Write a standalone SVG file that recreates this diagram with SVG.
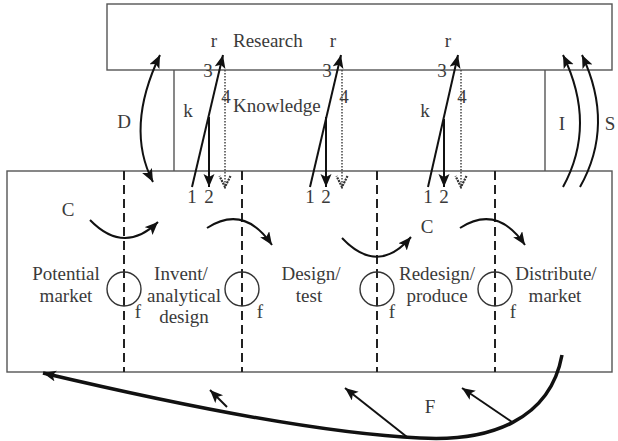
<svg xmlns="http://www.w3.org/2000/svg" width="618" height="441" viewBox="0 0 618 441">
<style>
  .box{fill:none;stroke:#555;stroke-width:1.4}
  .div{fill:none;stroke:#222;stroke-width:2;stroke-dasharray:9 5}
  .circ{fill:none;stroke:#333;stroke-width:1.4}
  .t{font-family:"Liberation Serif","Times New Roman",serif;font-size:19px;fill:#3a3a3a}
  .mid{text-anchor:middle}
  .arr{fill:none;stroke:#111;stroke-width:2}
  .thick{fill:none;stroke:#111;stroke-width:3.5}
  .dot{fill:none;stroke:#444;stroke-width:1.5;stroke-dasharray:1.5 1.5}
</style>
<defs>
  <marker id="ah" markerUnits="userSpaceOnUse" markerWidth="14" markerHeight="12" refX="13" refY="5.5" orient="auto">
    <path d="M0,0 L13,5.5 L0,11 L3,5.5 z" fill="#111"/>
  </marker>
  <marker id="ahs" markerUnits="userSpaceOnUse" markerWidth="14" markerHeight="12" refX="13" refY="5.5" orient="auto-start-reverse">
    <path d="M0,0 L13,5.5 L0,11 L3,5.5 z" fill="#111"/>
  </marker>
  <marker id="ahv" markerUnits="userSpaceOnUse" markerWidth="14" markerHeight="14" refX="12" refY="6.5" orient="auto">
    <path d="M1,1 L12,6.5 L1,12" fill="none" stroke="#333" stroke-width="2.2" stroke-dasharray="2 1"/>
  </marker>
</defs>

<g id="research">
  <rect class="box" x="107" y="4" width="505" height="66"/>
  <text class="t" x="233" y="47">Research</text>
</g>
<g id="knowledge">
  <line class="box" x1="174" y1="70" x2="174" y2="171"/>
  <line class="box" x1="545" y1="70" x2="545" y2="171"/>
  <text class="t" x="233" y="112">Knowledge</text>
</g>
<g id="chain">
  <rect class="box" x="7" y="171" width="605" height="201"/>
  <line class="div" x1="124" y1="171" x2="124" y2="372"/>
  <line class="div" x1="242" y1="171" x2="242" y2="372"/>
  <line class="div" x1="377" y1="171" x2="377" y2="372"/>
  <line class="div" x1="495" y1="171" x2="495" y2="372"/>
  <circle class="circ" cx="124" cy="289" r="17"/>
  <circle class="circ" cx="242" cy="289" r="17"/>
  <circle class="circ" cx="377" cy="289" r="17"/>
  <circle class="circ" cx="495" cy="289" r="17"/>
</g>
<g id="potential-market">
  <text class="t mid" x="66" y="280">Potential</text>
  <text class="t mid" x="66" y="302">market</text>
</g>
<g id="invent">
  <text class="t mid" x="181" y="280">Invent/</text>
  <text class="t mid" x="184" y="302">analytical</text>
  <text class="t mid" x="184" y="323">design</text>
</g>
<g id="design-test">
  <text class="t mid" x="311" y="280">Design/</text>
  <text class="t mid" x="309" y="302">test</text>
</g>
<g id="redesign">
  <text class="t mid" x="437" y="280">Redesign/</text>
  <text class="t mid" x="437" y="302">produce</text>
</g>
<g id="distribute">
  <text class="t mid" x="556" y="280">Distribute/</text>
  <text class="t mid" x="555" y="302">market</text>
</g>

<g id="labels">
  <text class="t mid" x="214" y="47">r</text>
  <text class="t mid" x="333" y="47">r</text>
  <text class="t mid" x="448" y="47">r</text>
  <text class="t mid" x="208" y="77">3</text>
  <text class="t mid" x="327" y="77">3</text>
  <text class="t mid" x="442" y="77">3</text>
  <text class="t mid" x="226" y="103">4</text>
  <text class="t mid" x="344" y="103">4</text>
  <text class="t mid" x="462" y="103">4</text>
  <text class="t mid" x="188" y="117">k</text>
  <text class="t mid" x="425" y="117">k</text>
  <text class="t mid" x="124" y="128">D</text>
  <text class="t mid" x="562" y="130">I</text>
  <text class="t mid" x="610" y="130">S</text>
  <text class="t mid" x="192" y="203">1</text>
  <text class="t mid" x="209" y="203">2</text>
  <text class="t mid" x="310" y="203">1</text>
  <text class="t mid" x="326" y="203">2</text>
  <text class="t mid" x="428" y="203">1</text>
  <text class="t mid" x="444" y="203">2</text>
  <text class="t mid" x="68" y="216">C</text>
  <text class="t mid" x="427" y="233">C</text>
  <text class="t mid" x="138" y="318">f</text>
  <text class="t mid" x="260" y="318">f</text>
  <text class="t mid" x="392" y="318">f</text>
  <text class="t mid" x="513" y="318">f</text>
  <text class="t mid" x="430" y="413">F</text>
</g>

<g id="connectors">
  <!-- chain 1 -->
  <line class="arr" x1="192" y1="187" x2="223" y2="55" marker-end="url(#ah)"/>
  <line class="arr" x1="209" y1="117" x2="209" y2="187" marker-end="url(#ah)"/>
  <line class="dot" x1="225" y1="70" x2="225" y2="187" marker-end="url(#ahv)"/>
  <!-- chain 2 -->
  <line class="arr" x1="310" y1="187" x2="341" y2="55" marker-end="url(#ah)"/>
  <line class="arr" x1="326" y1="117" x2="326" y2="187" marker-end="url(#ah)"/>
  <line class="dot" x1="342" y1="70" x2="342" y2="187" marker-end="url(#ahv)"/>
  <!-- chain 3 -->
  <line class="arr" x1="428" y1="187" x2="458" y2="55" marker-end="url(#ah)"/>
  <line class="arr" x1="444" y1="119" x2="444" y2="187" marker-end="url(#ah)"/>
  <line class="dot" x1="461" y1="70" x2="461" y2="187" marker-end="url(#ahv)"/>
  <!-- D, I, S -->
  <path class="arr" d="M153,182 Q125,128 160,55" marker-start="url(#ahs)" marker-end="url(#ah)"/>
  <path class="arr" d="M563,187 Q597,125 563,55" marker-end="url(#ah)"/>
  <path class="arr" d="M580,187 Q615,125 582,55" marker-end="url(#ah)"/>
  <!-- C arrows -->
  <path class="arr" d="M90,220 Q124,255 158,222" marker-end="url(#ah)"/>
  <path class="arr" d="M207,228 Q244,204 272,245" marker-end="url(#ah)"/>
  <path class="arr" d="M342,238 Q378,276 411,237" marker-end="url(#ah)"/>
  <path class="arr" d="M460,228 Q497,204 525,245" marker-end="url(#ah)"/>
  <!-- F feedback -->
  <path class="thick" d="M562,355 C550,420 490,442 420,438 C330,434 200,410 43,373" marker-end="url(#ah)"/>
  <line class="arr" x1="227" y1="407" x2="210" y2="390" marker-end="url(#ah)"/>
  <line class="arr" x1="407" y1="437" x2="345" y2="388" marker-end="url(#ah)"/>
  <line class="arr" x1="512" y1="422" x2="462" y2="388" marker-end="url(#ah)"/>
</g>
</svg>
